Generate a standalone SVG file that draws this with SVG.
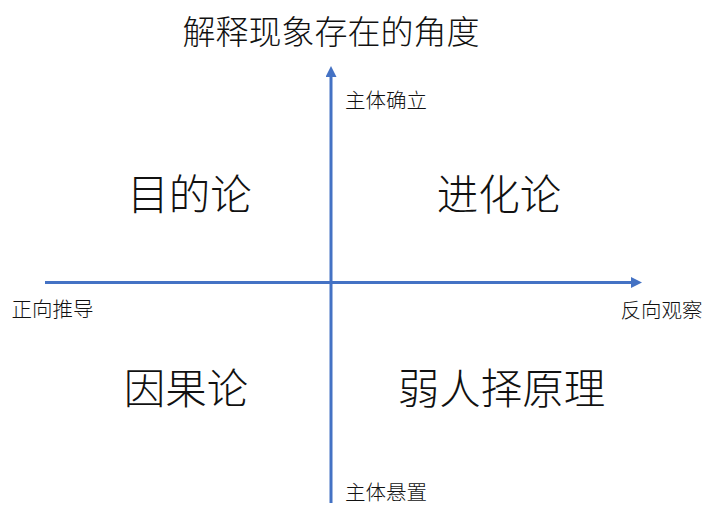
<svg xmlns="http://www.w3.org/2000/svg" width="720" height="518" viewBox="0 0 720 518">
  <defs>
    <marker id="arrow" markerUnits="userSpaceOnUse" markerWidth="12" markerHeight="12" refX="0" refY="5.5" orient="auto">
      <path d="M0,0 L11,5.5 L0,11 z" fill="#4472C4"/>
    </marker>
    <style>
      text { font-family: "Noto Sans CJK SC", "Noto Sans CJK JP", sans-serif; font-weight: 300; fill: #111; text-anchor: middle; dominant-baseline: central; }
      .title { font-size: 33px; }
      .quad { font-size: 41.5px; }
      .axis-label { font-size: 20.5px; }
      .axis { stroke: #4472C4; stroke-width: 3; fill: none; }
    </style>
  </defs>
  <rect width="720" height="518" fill="#ffffff"/>
  <g id="connectors">
    <line class="axis" x1="331" y1="503" x2="331" y2="77" marker-end="url(#arrow)"/>
    <line class="axis" x1="45" y1="282.5" x2="631" y2="282.5" marker-end="url(#arrow)"/>
  </g>
  <g id="title"><text class="title" x="331" y="30">解释现象存在的角度</text></g>
  <g id="label-top"><text class="axis-label" x="386" y="99">主体确立</text></g>
  <g id="label-bottom"><text class="axis-label" x="386" y="491">主体悬置</text></g>
  <g id="label-left"><text class="axis-label" x="52.5" y="308">正向推导</text></g>
  <g id="label-right"><text class="axis-label" x="661.5" y="308.5">反向观察</text></g>
  <g id="quad-tl"><text class="quad" x="189.5" y="192">目的论</text></g>
  <g id="quad-tr"><text class="quad" x="499" y="192">进化论</text></g>
  <g id="quad-bl"><text class="quad" x="186" y="386">因果论</text></g>
  <g id="quad-br"><text class="quad" x="501.5" y="386">弱人择原理</text></g>
</svg>
